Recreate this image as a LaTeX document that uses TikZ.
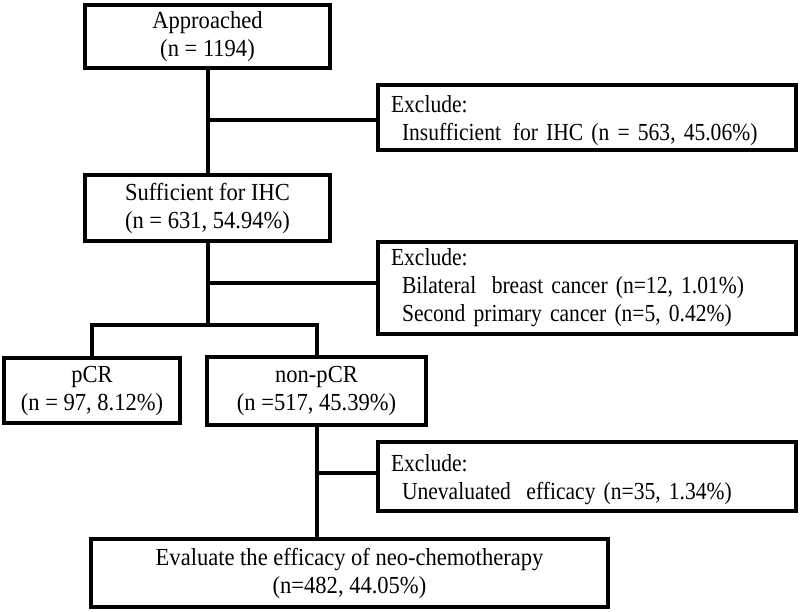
\documentclass[tikz,border=0pt]{standalone}
\usepackage{fontspec}
\setmainfont{Liberation Serif}
\newfontfamily\reffont{Liberation Serif}[FakeStretch=0.92]
\newfontfamily\reffontx{Liberation Serif}[FakeStretch=0.88]
\newcommand\mytstrut{\rule{0pt}{23pt}}
\usetikzlibrary{calc}
\begin{document}
\begin{tikzpicture}[x=1pt,y=-1pt,
  txt/.style={font=\reffont\fontsize{24.5}{28}\selectfont},
  txtx/.style={font=\reffontx\fontsize{24.5}{28}\selectfont},
  low/.style={execute at begin node=\mytstrut},
  box/.style={txt, draw=black, line width=4pt, inner sep=0pt, align=center},
  exbox/.style={txtx, draw=black, line width=4pt, inner xsep=13pt, inner ysep=0pt, align=left, text width=392pt, minimum width=418pt},
  link/.style={draw=black, line width=4pt, line join=miter}]
\useasboundingbox (0,0) rectangle (800,611);
\node[box, low, minimum width=245pt, minimum height=63pt] (app) at (207.5,36.5) {Approached\\(n = 1194)};
\node[exbox, low, minimum height=65pt] (exc1) at (587,117.5) {Exclude:\\\hspace*{0.45em}Insufficient\hspace{0.15em} for IHC (n = 563, 45.06\%)};
\node[box, low, minimum width=245pt, minimum height=66pt] (suf) at (207.5,208) {Sufficient for IHC\\(n = 631, 54.94\%)};
\node[exbox, minimum height=92pt] (exc2) at (587,288) {Exclude:\\\hspace*{0.45em}Bilateral\hspace{0.3em} breast cancer (n=12, 1.01\%)\\\hspace*{0.45em}Second primary cancer (n=5, 0.42\%)};
\node[box, low, minimum width=176pt, minimum height=65pt] (pcr) at (92,390.5) {pCR\\(n = 97, 8.12\%)};
\node[box, low, minimum width=219pt, minimum height=68pt] (npcr) at (316.5,391) {non-pCR\\(n =517, 45.39\%)};
\node[exbox, low, minimum height=69pt] (exc3) at (587,476.5) {Exclude:\\\hspace*{0.45em}Unevaluated\hspace{0.3em} efficacy (n=35, 1.34\%)};
\node[box, minimum width=517pt, minimum height=68pt] (eva) at (349.5,573) {Evaluate the efficacy of neo-chemotherapy\\(n=482, 44.05\%)};
\coordinate (b1) at (207.5,120);
\coordinate (b2) at (207.5,283);
\coordinate (split) at (207.5,325);
\coordinate (b3) at (316.5,473);
\draw[link] (app.south) -- (suf.north);
\draw[link] (b1) -- (b1 -| exc1.west);
\draw[link] (suf.south) -- (split);
\draw[link] (b2) -- (b2 -| exc2.west);
\draw[link] (pcr.north) -- (pcr.north |- split) -- (npcr.north |- split) -- (npcr.north);
\draw[link] (npcr.south) -- (npcr.south |- eva.north);
\draw[link] (b3) -- (b3 -| exc3.west);
\end{tikzpicture}
\end{document}
